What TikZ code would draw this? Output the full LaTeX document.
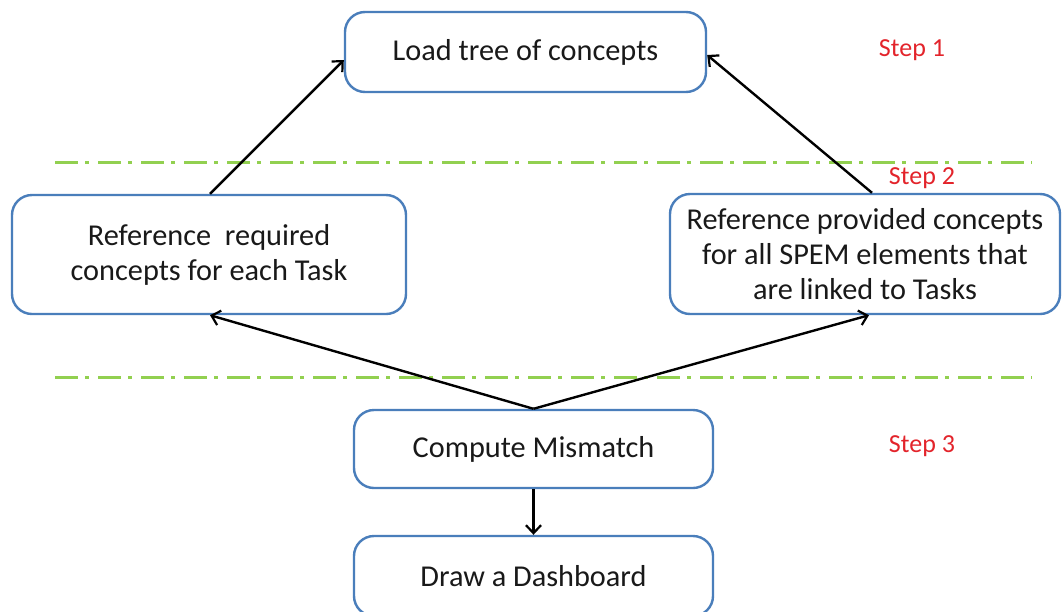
\documentclass[tikz,border=0pt]{standalone}
\usepackage{fontspec}
\setmainfont{Carlito}
\usetikzlibrary{arrows.meta,calc}
\definecolor{boxblue}{HTML}{4A7EBB}
\definecolor{sepgreen}{HTML}{92D050}
\definecolor{steprd}{HTML}{E3242B}
\tikzset{
  procbox/.style={draw=boxblue, line width=2.4pt, rounded corners=20pt, fill=white,
    align=center, text=black!90, font=\fontsize{30.3}{35}\selectfont, inner sep=0pt},
  flow/.style={line width=2.4pt, -{Straight Barb[length=8pt,width=15pt,line width=2.2pt]}},
  separator/.style={draw=sepgreen, line width=3pt,
    dash pattern=on 23pt off 7pt on 4pt off 9pt},
  steplabel/.style={text=steprd, font=\fontsize{26}{30}\selectfont, inner sep=0pt}
}
\begin{document}
\begin{tikzpicture}[x=1pt,y=-1pt]
  \useasboundingbox[fill=white] (0,0) rectangle (1063,611);

  % phase separators
  \draw[separator] (55,162) -- (1032,162);
  \draw[separator] (55,377) -- (1032,377);

  % process boxes
  \node[procbox, minimum width=361pt, minimum height=80pt] (load) at (525.5,52) {Load tree of concepts};
  \node[procbox, minimum width=394pt, minimum height=119pt] (req) at (209,254.5)
    {Reference\ \ required\\concepts for each Task};
  \node[procbox, minimum width=390pt, minimum height=120pt] (prov) at (865,254)
    {Reference provided concepts\\for all SPEM elements that\\are linked to Tasks};
  \node[procbox, minimum width=359pt, minimum height=78pt] (mism) at (533.5,449) {Compute Mismatch};
  \node[procbox, minimum width=359pt, minimum height=80pt] (dash) at (533.5,576) {Draw a Dashboard};

  % step labels
  \node[steplabel] (s1) at (912,50) {Step 1};
  \node[steplabel] (s2) at (922,178) {Step 2};
  \node[steplabel] (s3) at (922,446) {Step 3};

  % connectors
  \draw[flow] ([xshift=1pt]req.north) -- ([yshift=-8pt]load.west);
  \draw[flow] ([xshift=7pt]prov.north) -- ([yshift=-3pt]load.east);
  \draw[flow] (mism.north) -- ([xshift=1pt]req.south);
  \draw[flow] (mism.north) -- ([xshift=4pt]prov.south);
  \draw[flow] (mism.south) -- (dash.north);
\end{tikzpicture}
\end{document}
